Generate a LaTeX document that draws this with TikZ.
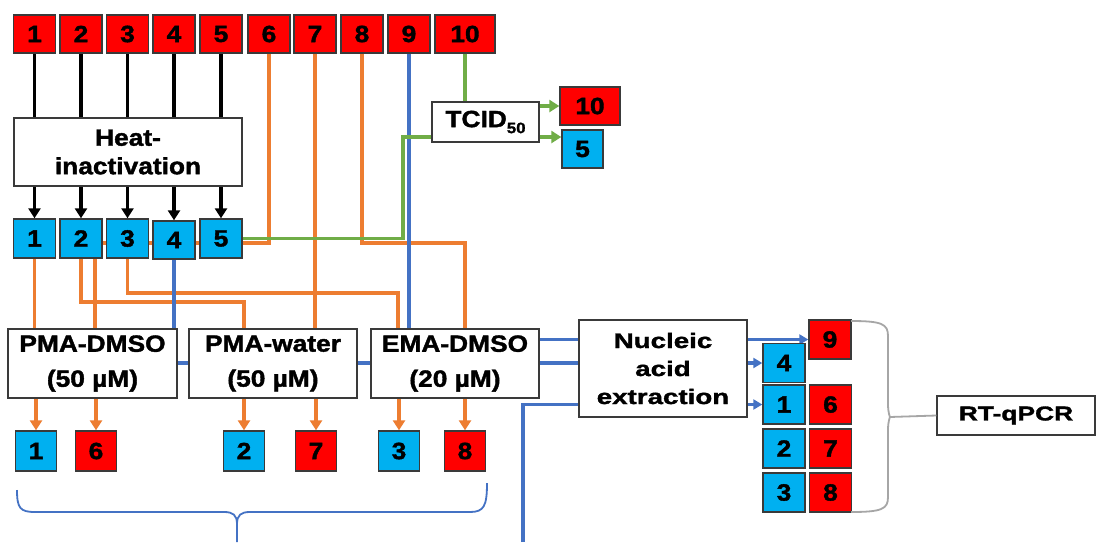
\documentclass[tikz,border=0pt]{standalone}
\usepackage{fontspec}
\setmainfont{Liberation Sans}[FakeStretch=1.12, BoldFeatures={FakeBold=1.6}]
\newfontfamily\widefont{Liberation Sans}[FakeStretch=1.32, BoldFeatures={FakeBold=1.6}]
\usetikzlibrary{arrows.meta}
\definecolor{rfill}{HTML}{FF0000}
\definecolor{bfill}{HTML}{00B0F0}
\definecolor{oline}{HTML}{ED7D31}
\definecolor{bline}{HTML}{4472C4}
\definecolor{gline}{HTML}{70AD47}
\definecolor{brgray}{HTML}{A6A6A6}
\definecolor{edge}{HTML}{3A3A3A}
\pgfdeclarelayer{back}
\pgfdeclarelayer{bg}
\pgfsetlayers{back,bg,main}
\begin{document}
\begin{tikzpicture}[x=1pt,y=-1pt,
  box/.style={draw=edge, line width=1.4pt, inner sep=0pt, align=center,
    font=\bfseries\fontsize{23.5}{28.5}\selectfont},
  rsq/.style={box, fill=rfill, minimum width=42, minimum height=38},
  bsq/.style={box, fill=bfill, minimum width=42, minimum height=38},
  wbox/.style={box, fill=white},
  kl/.style={draw=black, line width=3.4pt},
  ol/.style={draw=oline, line width=3.4pt},
  bl/.style={draw=bline, line width=3.4pt},
  gl/.style={draw=gline, line width=3.4pt},
  arr/.style={-{Triangle[length=10pt,width=12pt]}},
  sarr/.style={-{Triangle[length=9pt,width=10pt]}},
  bracegray/.style={draw=brgray, line width=1.8pt},
  braceblue/.style={draw=bline, line width=1.8pt}
]
\begin{pgfonlayer}{back}
\fill[white] (0,0) rectangle (1096,542);
\end{pgfonlayer}
\useasboundingbox (0,0) rectangle (1096,542);

% top row of samples
\foreach \i/\x in {1/34.5,2/81,3/127.5,4/174,5/221,6/269,7/315,8/362,9/409}
  \node[rsq] (t\i) at (\x,34) {\i};
\node[rsq, minimum width=60] (t10) at (465,34) {10};

% heat inactivation
\node[wbox, minimum width=228, minimum height=68] (heat) at (128,152) {Heat-\\inactivation};

% inactivated samples
\foreach \i/\x in {1/34.5,2/81,3/127.5,5/221}
  \node[bsq, minimum height=39] (h\i) at (\x,238.5) {\i};
\node[bsq] (h4) at (174,240) {4};

% TCID50
\node[wbox, minimum width=107, minimum height=40] (tcid) at (485.5,122)
  {TCID\raisebox{-6pt}{\fontsize{15}{15}\selectfont 50}};
\node[rsq, minimum width=60] (o10) at (590,106) {10};
\node[bsq, minimum width=41] (o5) at (582.5,149) {5};

% dye treatments
\node[wbox, minimum width=169, minimum height=69, font=\bfseries\fontsize{23.5}{35}\selectfont] (pd) at (92.5,363.5) {PMA-DMSO\\(50 µM)};
\node[wbox, minimum width=168, minimum height=69, font=\bfseries\fontsize{23.5}{35}\selectfont] (pw) at (273,363.5) {PMA-water\\(50 µM)};
\node[wbox, minimum width=168, minimum height=69, font=\bfseries\fontsize{23.5}{35}\selectfont] (ed) at (455,363.5) {EMA-DMSO\\(20 µM)};

% treated samples
\node[bsq, minimum width=41, minimum height=40] (s1) at (36,451) {1};
\node[rsq, minimum width=41, minimum height=40] (s6) at (96,451) {6};
\node[bsq, minimum width=41, minimum height=40] (s2) at (244,451) {2};
\node[rsq, minimum width=41, minimum height=40] (s7) at (316,451) {7};
\node[bsq, minimum width=41, minimum height=40] (s3) at (399,451) {3};
\node[rsq, minimum width=41, minimum height=40] (s8) at (465,451) {8};

% nucleic acid extraction
\node[wbox, minimum width=168, minimum height=97, font=\widefont\bfseries\fontsize{21}{28}\selectfont] (na) at (663,368.5) {Nucleic\\acid\\extraction};

% extracted samples
\node[rsq, minimum height=39] (r9) at (830,339.5) {9};
\node[bsq, minimum height=39] (q4) at (784,363) {4};
\node[bsq, minimum height=39] (q1) at (784,404.5) {1};
\node[rsq, minimum height=39] (r6) at (830.5,404.5) {6};
\node[bsq, minimum height=39] (q2) at (784,448.5) {2};
\node[rsq, minimum height=39] (r7) at (830.5,448.5) {7};
\node[bsq, minimum height=39] (q3) at (784,492.5) {3};
\node[rsq, minimum height=39] (r8) at (830.5,492.5) {8};

% RT-qPCR
\node[wbox, minimum width=158, minimum height=39, font=\widefont\bfseries\fontsize{20}{24}\selectfont] (rt) at (1016,415.5) {RT-qPCR};

% junction coordinates
\coordinate (j6) at (95,243);
\coordinate (j2) at (244,302);
\coordinate (j3) at (398,293);
\coordinate (j8) at (465,243);
\coordinate (g) at (403,137);
\coordinate (kb) at (523,542);
\coordinate (btip) at (237,542);
\coordinate (rtip) at (890,417);

\begin{pgfonlayer}{bg}
% black
\foreach \i in {1,...,5} {
  \draw[kl] (t\i.south) -- (t\i.south |- heat.north);
  \draw[kl,arr] (h\i.north |- heat.south) -- (h\i.north);
}
% orange
\draw[ol] (h1.south) -- (h1.south |- pd.north);
\draw[ol] (t6.south) |- (j6) -- (j6 |- pd.north);
\draw[ol] (h2.south) |- (j2) -- (j2 |- pw.north);
\draw[ol] (h3.south) |- (j3) -- (j3 |- ed.north);
\draw[ol] (t7.south) -- (t7.south |- pw.north);
\draw[ol] (t8.south) |- (j8) -- (j8 |- ed.north);
\draw[ol,arr] (s1.north |- pd.south) -- (s1.north);
\draw[ol,arr] (s6.north |- pd.south) -- (s6.north);
\draw[ol,arr] (s2.north |- pw.south) -- (s2.north);
\draw[ol,arr] (s7.north |- pw.south) -- (s7.north);
\draw[ol,arr] (s3.north |- ed.south) -- (s3.north);
\draw[ol,arr] (s8.north |- ed.south) -- (s8.north);
% blue
\draw[bl] (h4.south) |- (na.west |- q4);
\draw[bl] (t9.south) |- (na.west |- r9);
\draw[bl] (kb) |- (na.west |- q1);
\draw[bl,sarr] (na.east |- r9) -- (r9.west);
\draw[bl,sarr] (na.east |- q4) -- (q4.west);
\draw[bl,sarr] (na.east |- q1) -- (q1.west);
% green
\draw[gl] (t10.south) -- (t10.south |- tcid.north);
\draw[gl] (h5.east) -| (g) -- (tcid.west |- g);
\draw[gl,arr] (tcid.east |- o10) -- (o10.west);
\draw[gl,arr] (tcid.east |- g) -- (o5.west |- g);
\end{pgfonlayer}

% bottom brace
\draw[braceblue] (17,490) .. controls (17,508) and (20,512) .. (35,512) -- (224,512)
  .. controls (233,512) and (237,515) .. (237,524) -- (btip);
\draw[braceblue] (487,483) .. controls (487,506) and (484,512) .. (470,512) -- (250,512)
  .. controls (241,512) and (237,515) .. (237,524);
% right brace
\draw[bracegray] (851,321) .. controls (882,321) and (888,324) .. (888,336) -- (888,404)
  .. controls (888,413) and (890,417) .. (rtip);
\draw[bracegray] (851,512) .. controls (882,512) and (888,509) .. (888,497) -- (888,430)
  .. controls (888,421) and (890,417) .. (rtip);
\draw[bracegray] (rtip) -- (rt.west);
\end{tikzpicture}
\end{document}
